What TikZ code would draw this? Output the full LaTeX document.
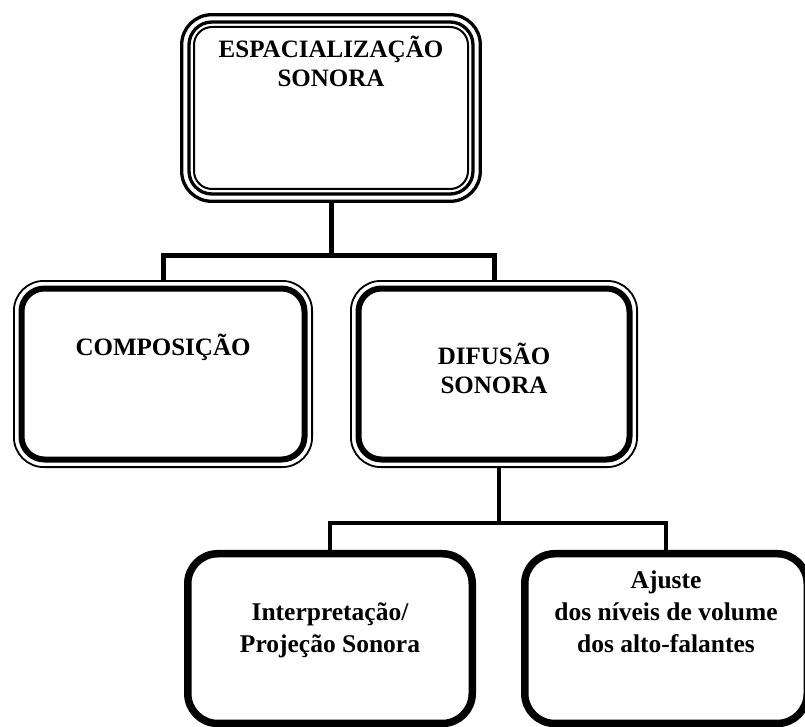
\documentclass[tikz,border=0pt]{standalone}
\usepackage{fontspec}
\setmainfont{Liberation Serif}
\usetikzlibrary{positioning}
\tikzset{
box/.style={draw, rounded corners=30pt, inner sep=0pt, outer sep=0pt},
topbox/.style={box, line width=3.3pt, minimum width=298.6pt, minimum height=186.6pt},
midbox/.style={box, line width=1.8pt, minimum height=186.2pt},
lowbox/.style={box, line width=7.5pt, minimum height=169.75pt},
link/.style={draw, line width=5pt},
sublink/.style={draw, line width=4.5pt},
lbl/.style={anchor=base, align=center, inner sep=0pt, font=\fontsize{25}{29}\selectfont\bfseries},
sublbl/.style={anchor=base, align=center, inner sep=0pt, font=\fontsize{25.5}{32}\selectfont\bfseries},
}

\begin{document}
\begin{tikzpicture}[x=1pt, y=-1pt]
\useasboundingbox (0,0) rectangle (805,727);
% boxes
\node[topbox] (esp) at (331,108) {};
\draw[line width=3.3pt, rounded corners=23pt] ([shift={(7.3pt,-7.3pt)}]esp.north west) rectangle ([shift={(-7.3pt,7.3pt)}]esp.south east);
\draw[line width=2pt, rounded corners=18pt] ([shift={(12.3pt,-12.3pt)}]esp.north west) rectangle ([shift={(-12.3pt,12.3pt)}]esp.south east);

\node[midbox, minimum width=298.2pt] (comp) at (163,374) {};
\draw[line width=6pt, rounded corners=23pt] ([shift={(7.6pt,-7.6pt)}]comp.north west) rectangle ([shift={(-7.6pt,7.6pt)}]comp.south east);
\node[midbox, minimum width=286.2pt] (dif) at (494,374) {};
\draw[line width=6pt, rounded corners=23pt] ([shift={(7.6pt,-7.6pt)}]dif.north west) rectangle ([shift={(-7.6pt,7.6pt)}]dif.south east);

\node[lowbox, minimum width=284.5pt] (interp) at (330,638.6) {};
\node[lowbox, minimum width=282.5pt] (ajuste) at (666,638.6) {};

% texts (base = last line)
\node[lbl] (esptxt) at (331,87) {ESPACIALIZAÇÃO\\SONORA};
\node[lbl] (comptxt) at (163,355) {COMPOSIÇÃO};
\node[lbl] (diftxt) at (494,393) {DIFUSÃO\\SONORA};
\node[sublbl] (interptxt) at (330,652) {Interpretação/\\Projeção Sonora};
\node[sublbl] (ajustetxt) at (666,652) {Ajuste\\dos níveis de volume\\dos alto-falantes};

% connectors
\coordinate (fork1) at (332,255);
\coordinate (fork2) at (499,523);
\draw[link] (esp.south) -- (esp.south |- fork1);
\draw[link] (comp.north) |- (dif.north |- fork1) -- (dif.north);
\draw[sublink] (dif.south -| fork2) -- (fork2);
\draw[sublink] (interp.north) |- (ajuste.north |- fork2) -- (ajuste.north);
\end{tikzpicture}
\end{document}
